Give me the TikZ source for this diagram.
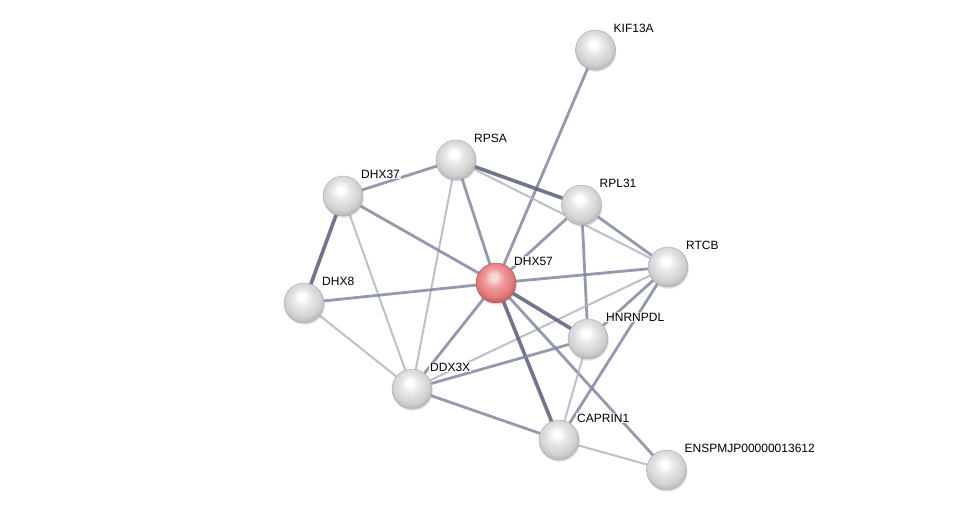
\documentclass[tikz,border=0pt]{standalone}
\usepackage{fontspec}
\setmainfont{Liberation Sans}
\usetikzlibrary{shadows}
\definecolor{edark}{HTML}{62677F}
\definecolor{emed}{HTML}{8287A0}
\definecolor{elight}{HTML}{B0B4C6}
\definecolor{gbA}{HTML}{FFFFFF}
\definecolor{gbB}{HTML}{E6E6E6}
\definecolor{gbC}{HTML}{D2D2D2}
\definecolor{gbD}{HTML}{B8B8B8}
\definecolor{gbE}{HTML}{8E8E8E}
\definecolor{rbA}{HTML}{FBD8D8}
\definecolor{rbB}{HTML}{F09A9C}
\definecolor{rbC}{HTML}{E47A7D}
\definecolor{rbD}{HTML}{C85A5D}
\definecolor{rbE}{HTML}{9A3033}
\pgfdeclareradialshading{gball}{\pgfpoint{-3bp}{8bp}}{color(0bp)=(gbA); color(4bp)=(gbA); color(12bp)=(gbB); color(22bp)=(gbC); color(28bp)=(gbD); color(33bp)=(gbE); color(50bp)=(gbE)}
\pgfdeclareradialshading{rball}{\pgfpoint{-3bp}{8bp}}{color(0bp)=(rbA); color(4bp)=(rbA); color(12bp)=(rbB); color(22bp)=(rbC); color(28bp)=(rbD); color(33bp)=(rbE); color(50bp)=(rbE)}
\tikzset{
  ball/.style={circle, minimum size=40pt, inner sep=0pt, shading=gball, draw=gray!60, line width=0.5pt,
    drop shadow={opacity=0.22, shadow xshift=0.8pt, shadow yshift=-1.8pt}},
  redb/.style={ball, shading=rball, draw=red!40!black!60},
  lbl/.style={anchor=west, font=\fontsize{12}{13}\selectfont, fill=white, fill opacity=0.75, text opacity=1, inner sep=1pt},
  edk/.style={draw=edark, line width=3.6pt, opacity=0.9},
  emd/.style={draw=emed, line width=2.8pt, opacity=0.85},
  elt/.style={draw=elight, line width=2pt, opacity=0.85},
}
\begin{document}
\begin{tikzpicture}[x=1pt,y=-1pt]
\useasboundingbox (0,0) rectangle (976,516);
% node positions
\coordinate (pKIF) at (595.5,50);
\coordinate (pRPSA) at (456,160);
\coordinate (pDHX37) at (343,196);
\coordinate (pRPL) at (581.5,205);
\coordinate (pRTCB) at (668,267);
\coordinate (pDHX57) at (496,283);
\coordinate (pDHX8) at (304,303);
\coordinate (pHN) at (588,339);
\coordinate (pDDX) at (412,389);
\coordinate (pCAP) at (559,440);
\coordinate (pENS) at (666.5,470);
% edges
\draw[emd] (pDHX57) -- (pKIF);
\draw[emd] (pDHX57) -- (pRPSA);
\draw[edk] (pRPSA) -- (pRPL);
\draw[elt] (pRPSA) -- (pRTCB);
\draw[emd] (pRPSA) -- (pDHX37);
\draw[elt] (pRPSA) -- (pDDX);
\draw[edk] (pDHX37) -- (pDHX8);
\draw[emd] (pDHX37) -- (pDHX57);
\draw[elt] (pDHX37) -- (pDDX);
\draw[emd] (pDHX8) -- (pDHX57);
\draw[elt] (pDHX8) -- (pDDX);
\draw[emd] (pRPL) -- (pDHX57);
\draw[emd] (pRPL) -- (pRTCB);
\draw[emd] (pRPL) -- (pHN);
\draw[emd] (pRTCB) -- (pDHX57);
\draw[emd] (pRTCB) -- (pHN);
\draw[elt] (pRTCB) -- (pDDX);
\draw[emd] (pRTCB) -- (pCAP);
\draw[edk] (pDHX57) -- (pHN);
\draw[emd] (pDHX57) -- (pDDX);
\draw[edk] (pDHX57) -- (pCAP);
\draw[emd] (pDHX57) -- (pENS);
\draw[emd] (pHN) -- (pDDX);
\draw[elt] (pHN) -- (pCAP);
\draw[emd] (pDDX) -- (pCAP);
\draw[elt] (pCAP) -- (pENS);
% nodes
\node[ball] (KIF) at (pKIF) {};
\node[ball] (RPSA) at (pRPSA) {};
\node[ball] (DHX37) at (pDHX37) {};
\node[ball] (RPL) at (pRPL) {};
\node[ball] (RTCB) at (pRTCB) {};
\node[redb] (DHX57) at (pDHX57) {};
\node[ball] (DHX8) at (pDHX8) {};
\node[ball] (HN) at (pHN) {};
\node[ball] (DDX) at (pDDX) {};
\node[ball] (CAP) at (pCAP) {};
\node[ball] (ENS) at (pENS) {};
% labels
\node[lbl] (lKIF) at ([xshift=17pt,yshift=22pt]pKIF) {KIF13A};
\node[lbl] (lRPSA) at ([xshift=17pt,yshift=22pt]pRPSA) {RPSA};
\node[lbl] (lDHX37) at ([xshift=17pt,yshift=22pt]pDHX37) {DHX37};
\node[lbl] (lRPL) at ([xshift=17pt,yshift=22pt]pRPL) {RPL31};
\node[lbl] (lRTCB) at ([xshift=17pt,yshift=22pt]pRTCB) {RTCB};
\node[lbl] (lDHX57) at ([xshift=17pt,yshift=22pt]pDHX57) {DHX57};
\node[lbl] (lDHX8) at ([xshift=17pt,yshift=22pt]pDHX8) {DHX8};
\node[lbl] (lHN) at ([xshift=17pt,yshift=22pt]pHN) {HNRNPDL};
\node[lbl] (lDDX) at ([xshift=17pt,yshift=22pt]pDDX) {DDX3X};
\node[lbl] (lCAP) at ([xshift=17pt,yshift=22pt]pCAP) {CAPRIN1};
\node[lbl] (lENS) at ([xshift=17pt,yshift=22pt]pENS) {ENSPMJP00000013612};
\end{tikzpicture}
\end{document}
